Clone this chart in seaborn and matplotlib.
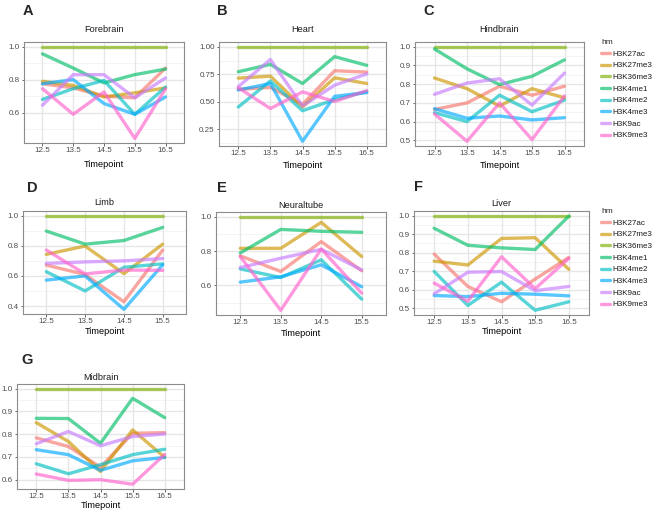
import numpy as np
import pandas as pd
import matplotlib
matplotlib.use("Agg")
import matplotlib.pyplot as plt
import seaborn as sns

# ---------------- data ----------------
MARKS = ["H3K27ac", "H3K27me3", "H3K36me3", "H3K4me1", "H3K4me2", "H3K4me3", "H3K9ac", "H3K9me3"]
COLORS = ["#F8766D", "#CD9600", "#7CAE00", "#00BE67", "#00BFC4", "#00A9FF", "#C77CFF", "#FF61CC"]
TP5 = ["12.5", "13.5", "14.5", "15.5", "16.5"]
TP4 = ["12.5", "13.5", "14.5", "15.5"]

forebrain = {
    "H3K27ac":  [0.775, 0.750, 0.700, 0.690, 0.870],
    "H3K27me3": [0.790, 0.765, 0.695, 0.720, 0.750],
    "H3K36me3": [1.0, 1.0, 1.0, 1.0, 1.0],
    "H3K4me1":  [0.956, 0.870, 0.780, 0.830, 0.864],
    "H3K4me2":  [0.680, 0.745, 0.795, 0.590, 0.755],
    "H3K4me3":  [0.775, 0.800, 0.655, 0.590, 0.695],
    "H3K9ac":   [0.645, 0.830, 0.830, 0.690, 0.810],
    "H3K9me3":  [0.745, 0.590, 0.725, 0.444, 0.745],
}
heart = {
    "H3K27ac":  [0.613, 0.631, 0.477, 0.782, 0.770],
    "H3K27me3": [0.715, 0.733, 0.453, 0.718, 0.666],
    "H3K36me3": [1.0, 1.0, 1.0, 1.0, 1.0],
    "H3K4me1":  [0.773, 0.840, 0.666, 0.910, 0.831],
    "H3K4me2":  [0.453, 0.689, 0.419, 0.520, 0.593],
    "H3K4me3":  [0.608, 0.666, 0.142, 0.550, 0.584],
    "H3K9ac":   [0.637, 0.884, 0.462, 0.651, 0.753],
    "H3K9me3":  [0.628, 0.439, 0.590, 0.503, 0.602],
}
hindbrain = {
    "H3K27ac":  [0.665, 0.700, 0.789, 0.741, 0.789],
    "H3K27me3": [0.833, 0.776, 0.683, 0.776, 0.727],
    "H3K36me3": [1.0, 1.0, 1.0, 1.0, 1.0],
    "H3K4me1":  [0.988, 0.882, 0.798, 0.842, 0.930],
    "H3K4me2":  [0.648, 0.600, 0.741, 0.653, 0.715],
    "H3K4me3":  [0.669, 0.618, 0.630, 0.609, 0.621],
    "H3K9ac":   [0.746, 0.806, 0.829, 0.688, 0.859],
    "H3K9me3":  [0.641, 0.495, 0.700, 0.504, 0.737],
}
limb = {
    "H3K27ac":  [0.672, 0.609, 0.428, 0.772],
    "H3K27me3": [0.743, 0.798, 0.615, 0.811],
    "H3K36me3": [1.0, 1.0, 1.0, 1.0],
    "H3K4me1":  [0.898, 0.811, 0.835, 0.922],
    "H3K4me2":  [0.628, 0.500, 0.657, 0.680],
    "H3K4me3":  [0.572, 0.600, 0.378, 0.674],
    "H3K9ac":   [0.683, 0.693, 0.700, 0.715],
    "H3K9me3":  [0.772, 0.613, 0.639, 0.637],
}
neuraltube = {
    "H3K27ac":  [0.772, 0.681, 0.855, 0.685],
    "H3K27me3": [0.816, 0.816, 0.967, 0.768],
    "H3K36me3": [1.0, 1.0, 1.0, 1.0],
    "H3K4me1":  [0.789, 0.926, 0.915, 0.909],
    "H3K4me2":  [0.696, 0.646, 0.749, 0.520],
    "H3K4me3":  [0.619, 0.650, 0.720, 0.592],
    "H3K9ac":   [0.704, 0.758, 0.810, 0.690],
    "H3K9me3":  [0.768, 0.455, 0.812, 0.555],
}
liver = {
    "H3K27ac":  [0.792, 0.617, 0.534, 0.657, 0.774],
    "H3K27me3": [0.754, 0.733, 0.877, 0.881, 0.710],
    "H3K36me3": [1.0, 1.0, 1.0, 1.0, 1.0],
    "H3K4me1":  [0.932, 0.840, 0.826, 0.817, 0.998],
    "H3K4me2":  [0.698, 0.514, 0.640, 0.488, 0.534],
    "H3K4me3":  [0.568, 0.562, 0.580, 0.575, 0.566],
    "H3K9ac":   [0.577, 0.694, 0.698, 0.594, 0.617],
    "H3K9me3":  [0.635, 0.537, 0.778, 0.605, 0.769],
}
midbrain = {
    "H3K27ac":  [0.784, 0.746, 0.655, 0.804, 0.807],
    "H3K27me3": [0.851, 0.768, 0.636, 0.819, 0.698],
    "H3K36me3": [1.0, 1.0, 1.0, 1.0, 1.0],
    "H3K4me1":  [0.870, 0.869, 0.760, 0.958, 0.873],
    "H3K4me2":  [0.670, 0.626, 0.666, 0.710, 0.734],
    "H3K4me3":  [0.732, 0.710, 0.641, 0.683, 0.698],
    "H3K9ac":   [0.758, 0.812, 0.749, 0.790, 0.801],
    "H3K9me3":  [0.625, 0.597, 0.600, 0.580, 0.711],
}

# ---------------- layout (pixels) ----------------
W, H = 654, 513
# letter, title, data, timepoints, box(l,r,t,b), yticks, fmt, legend, letter(x,y), title_y, xlabel_y
panels = [
    ("A", "Forebrain", forebrain, TP5, (24, 184, 42, 143), [0.6, 0.8, 1.0], "{:.1f}", False, (23, 11), 30, 165),
    ("B", "Heart", heart, TP5, (219, 386, 42, 146), [0.25, 0.5, 0.75, 1.0], "{:.2f}", False, (217, 11), 30, 166),
    ("C", "Hindbrain", hindbrain, TP5, (415, 584, 42, 146), [0.5, 0.6, 0.7, 0.8, 0.9, 1.0], "{:.1f}", True, (423, 11), 29, 166),
    ("D", "Limb", limb, TP4, (23, 186, 211, 314), [0.4, 0.6, 0.8, 1.0], "{:.1f}", False, (27, 188), 203, 331),
    ("E", "Neuraltube", neuraltube, TP4, (216, 386, 212, 315), [0.6, 0.8, 1.0], "{:.1f}", False, (217, 188), 205, 333),
    ("F", "Liver", liver, TP5, (414, 589, 211, 315), [0.5, 0.6, 0.7, 0.8, 0.9, 1.0], "{:.1f}", True, (414, 187), 204, 331),
    ("G", "Midbrain", midbrain, TP5, (17, 184, 384, 489), [0.6, 0.7, 0.8, 0.9, 1.0], "{:.1f}", False, (21, 360), 377, 506),
]

sns.set_theme(style="white")
plt.rcParams["font.family"] = ["Liberation Sans", "DejaVu Sans"]

fig = plt.figure(figsize=(W / 100, H / 100), dpi=100)
fig.patch.set_facecolor("white")


def fy(py):
    return 1 - py / H


for letter, title, data, tps, (l, r, t, b), yt, fmt, show_leg, (lx, ly), ty, xly in panels:
    rows = []
    for m in MARKS:
        for tp, v in zip(tps, data[m]):
            rows.append({"Timepoint": tp, "value": v, "hm": m})
    df = pd.DataFrame(rows)

    ax = fig.add_axes([l / W, 1 - b / H, (r - l) / W, (b - t) / H])
    ax.set_facecolor("white")
    vals = df["value"].to_numpy()
    lo, hi = vals.min(), vals.max()
    pad = (hi - lo) * 0.05
    ylo, yhi = lo - pad, hi + pad

    # grid (major + minor like ggplot)
    step = yt[1] - yt[0]
    ext = [yt[0] - step] + list(yt) + [yt[-1] + step]
    minors = [(ext[i] + ext[i + 1]) / 2 for i in range(len(ext) - 1)]
    for mv in minors:
        if ylo < mv < yhi:
            ax.axhline(mv, color="#F2F2F2", lw=0.6, zorder=0)
    for mv in yt:
        ax.axhline(mv, color="#E6E6E6", lw=1.0, zorder=0)
    for i in range(len(tps)):
        ax.axvline(i, color="#E6E6E6", lw=1.0, zorder=0)

    sns.lineplot(data=df, x="Timepoint", y="value", hue="hm", hue_order=MARKS,
                 palette=COLORS, alpha=0.65, lw=2.4, ax=ax, legend=False,
                 sort=False, zorder=2)

    ax.set_xlim(-0.6, len(tps) - 1 + 0.6)
    ax.set_ylim(ylo, yhi)
    ax.set_yticks(yt)
    ax.set_yticklabels([fmt.format(v) for v in yt])
    ax.set_xticks(range(len(tps)))
    ax.set_xticklabels(tps)
    ax.tick_params(axis="both", labelsize=5.8, colors="#4D4D4D", length=1.8, width=0.6,
                   pad=1.2, left=True, bottom=True)
    ax.set_xlabel("Timepoint", fontsize=6.6, color="black")
    ax.xaxis.set_label_coords(0.5, -(xly - b) / (b - t))
    ax.xaxis.label.set_va("center")
    ax.set_ylabel("")
    for s in ax.spines.values():
        s.set_color("#8C8C8C")
        s.set_linewidth(0.8)
    fig.text((l + r) / 2 / W, fy(ty), title, fontsize=6.6, color="#1A1A1A",
             ha="center", va="center")
    fig.text(lx / W, fy(ly), letter, fontsize=10.5, fontweight="bold",
             ha="left", va="center")

    if show_leg:
        handles = [plt.Line2D([0], [0], color=c, lw=2.4, alpha=0.65) for c in COLORS]
        leg = fig.legend(handles, MARKS, title="hm", loc="upper left",
                         bbox_to_anchor=(601 / W, fy(t - 3)), frameon=False,
                         fontsize=5.8, title_fontsize=6, handlelength=1.1,
                         handletextpad=0.35, labelspacing=0.5, borderaxespad=0,
                         borderpad=0)
        leg._legend_box.align = "left"
        for txt in leg.get_texts():
            txt.set_color("#1A1A1A")

fig.savefig("out.png", dpi=100, facecolor="white")
